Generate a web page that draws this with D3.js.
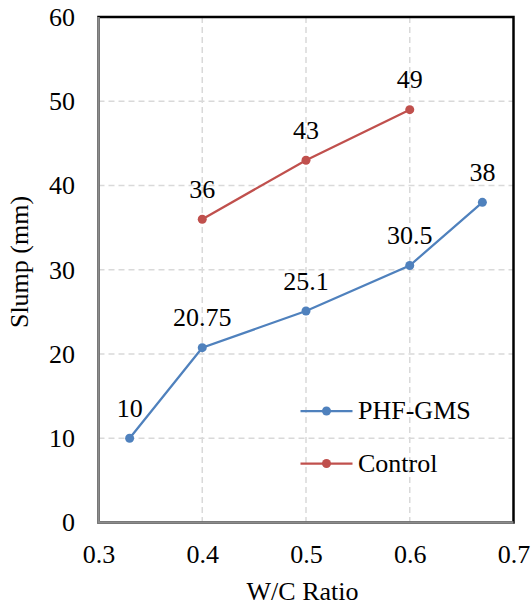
<!DOCTYPE html>
<html>
<head>
<meta charset="utf-8">
<script src="https://cdn.jsdelivr.net/npm/d3@7"></script>
<style>
  body { margin: 0; background: #fff; }
  svg text { font-family: "Liberation Serif", "Times New Roman", Times, serif; }
</style>
</head>
<body>
<svg id="chart" width="532" height="608"></svg>
<script>
// data
const phfRatio = [0.33, 0.4, 0.5, 0.6, 0.67];
const phfSlump = [10, 20.75, 25.1, 30.5, 38];
const controlRatio = [0.4, 0.5, 0.6];
const controlSlump = [36, 43, 49];
const xTicks = [0.3, 0.4, 0.5, 0.6, 0.7];
const yTicks = [0, 10, 20, 30, 40, 50, 60];

const series = [
    { name: 'PHF-GMS', color: '#4f81bd', xs: phfRatio, ys: phfSlump },
    { name: 'Control', color: '#c0504d', xs: controlRatio, ys: controlSlump }
];

const fontSize = 26;
const svg = d3.select('#chart');
const plotL = 98.5, plotR = 513.5, plotT = 17, plotB = 522.5;

const x = d3.scaleLinear().domain([0.3, 0.7]).range([plotL, plotR]);
const y = d3.scaleLinear().domain([0, 60]).range([plotB, plotT]);

// gridlines
svg.append('g')
    .selectAll('line')
    .data(yTicks.filter((t) => t > 0 && t < 60))
    .enter()
    .append('line')
    .attr('x1', plotL).attr('x2', plotR)
    .attr('y1', (d) => y(d)).attr('y2', (d) => y(d))
    .attr('stroke', '#d9d9d9').attr('stroke-width', 1.5)
    .attr('stroke-dasharray', '6,4');
svg.append('g')
    .selectAll('line')
    .data(xTicks.filter((t) => t > 0.3 && t < 0.7))
    .enter()
    .append('line')
    .attr('x1', (d) => x(d)).attr('x2', (d) => x(d))
    .attr('y1', plotT).attr('y2', plotB)
    .attr('stroke', '#d9d9d9').attr('stroke-width', 1.5)
    .attr('stroke-dasharray', '6,4');

// frame: black top/right, grey axis lines left/bottom
svg.append('rect')
    .attr('x', plotL).attr('y', plotT)
    .attr('width', plotR - plotL).attr('height', plotB - plotT)
    .attr('fill', 'none').attr('stroke', '#000').attr('stroke-width', 2.5);
svg.append('path')
    .attr('d', `M${plotL},${plotT}V${plotB}H${plotR}`)
    .attr('fill', 'none').attr('stroke', '#8c8c8c').attr('stroke-width', 2.5);

// axes (labels only)
const yAxis = svg.append('g')
    .attr('transform', `translate(${plotL},0)`)
    .call(d3.axisLeft(y).tickValues(yTicks).tickSize(0).tickPadding(23.5));
const xAxis = svg.append('g')
    .attr('transform', `translate(0,${plotB})`)
    .call(d3.axisBottom(x).tickValues(xTicks).tickFormat(d3.format('.1f')).tickSize(0).tickPadding(22));
[yAxis, xAxis].forEach((g) => {
    g.attr('font-size', fontSize).attr('font-family', null);
    g.select('.domain').remove();
    g.selectAll('text').attr('fill', '#000');
});

// axis titles
svg.append('text')
    .attr('x', 302.5).attr('y', 600)
    .attr('text-anchor', 'middle').attr('font-size', fontSize)
    .text('W/C Ratio');
svg.append('text')
    .attr('transform', 'translate(28,262) rotate(-90)')
    .attr('text-anchor', 'middle').attr('font-size', fontSize)
    .text('Slump (mm)');

// series
const line = d3.line().x((d) => x(d[0])).y((d) => y(d[1]));
series.forEach((s) => {
    const pts = s.xs.map((v, i) => [v, s.ys[i]]);
    const g = svg.append('g');
    g.append('path')
        .attr('d', line(pts))
        .attr('fill', 'none').attr('stroke', s.color).attr('stroke-width', 2.25);
    g.selectAll('circle')
        .data(pts)
        .enter()
        .append('circle')
        .attr('cx', (d) => x(d[0])).attr('cy', (d) => y(d[1]))
        .attr('r', 4.5).attr('fill', s.color);
    g.selectAll('text')
        .data(pts)
        .enter()
        .append('text')
        .attr('x', (d) => x(d[0])).attr('y', (d) => y(d[1]) - 21.5)
        .attr('text-anchor', 'middle').attr('font-size', fontSize)
        .text((d) => d[1]);
});

// legend
const legend = svg.append('g').attr('transform', 'translate(300.5,411)');
series.forEach((s, i) => {
    const item = legend.append('g').attr('transform', `translate(0,${i * 52.5})`);
    item.append('line')
        .attr('x1', 0).attr('x2', 52)
        .attr('stroke', s.color).attr('stroke-width', 2.25);
    item.append('circle').attr('cx', 26).attr('r', 4.5).attr('fill', s.color);
    item.append('text')
        .attr('x', 57.5).attr('y', 8)
        .attr('font-size', fontSize)
        .text(s.name);
});
</script>
</body>
</html>
